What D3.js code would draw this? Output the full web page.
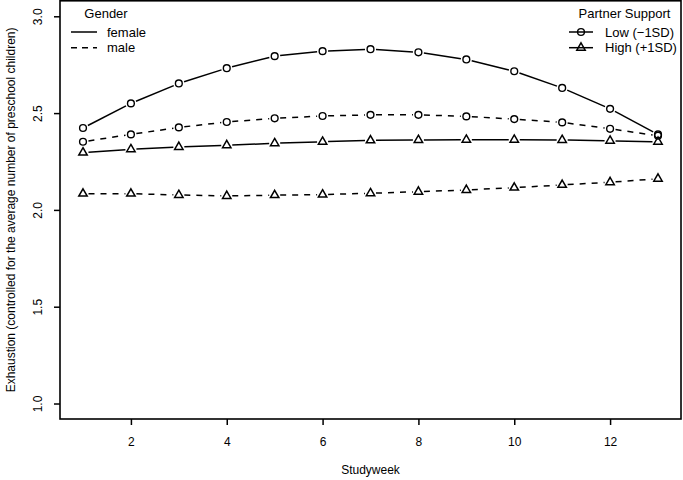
<!DOCTYPE html>
<html>
<head>
<meta charset="utf-8">
<script src="https://cdn.jsdelivr.net/npm/d3@7"></script>
<style>
  html, body { margin: 0; padding: 0; background: #fff; }
  svg { display: block; font-family: "Liberation Sans", Arial, Helvetica, sans-serif; }
</style>
</head>
<body>
<svg id="chart" width="683" height="480"></svg>
<script>
const weeks = [1,2,3,4,5,6,7,8,9,10,11,12,13];
const femaleLow  = [2.423,2.550,2.653,2.732,2.794,2.820,2.830,2.814,2.777,2.716,2.630,2.522,2.390];
const maleLow    = [2.352,2.390,2.426,2.454,2.473,2.485,2.491,2.491,2.483,2.469,2.452,2.419,2.383];
const femaleHigh = [2.296,2.313,2.325,2.334,2.344,2.352,2.359,2.361,2.362,2.362,2.361,2.357,2.352];
const maleHigh   = [2.084,2.084,2.077,2.072,2.076,2.079,2.086,2.094,2.103,2.115,2.129,2.143,2.161];
const xTicks = [2,4,6,8,10,12];
const yTicks = [1.0,1.5,2.0,2.5,3.0];
const series = [
  {name:"female", support:"Low (\u22121SD)", values: femaleLow, dashed:false, shape:"circle"},
  {name:"male", support:"Low (\u22121SD)", values: maleLow, dashed:true, shape:"circle"},
  {name:"female", support:"High (+1SD)", values: femaleHigh, dashed:false, shape:"triangle"},
  {name:"male", support:"High (+1SD)", values: maleHigh, dashed:true, shape:"triangle"}
];

const svg = d3.select("#chart");
const L = 60, R = 681, T = 0.8, B = 419;
const x = d3.scaleLinear().domain([0.52, 13.48]).range([L, R]);
const y = d3.scaleLinear().domain([0.92, 3.08]).range([B, T]);
const DASH = "6,6";
const LW = 1.5;

// Axes
const xAxis = svg.append("g").attr("transform", `translate(0,${B})`)
  .call(d3.axisBottom(x).tickValues(xTicks).tickSize(6).tickPadding(10).tickFormat(d3.format("d")));
const yAxis = svg.append("g").attr("transform", `translate(${L},0)`)
  .call(d3.axisLeft(y).tickValues(yTicks).tickSize(6).tickFormat(d3.format(".1f")));
[xAxis, yAxis].forEach(a => {
  a.select(".domain").remove();
  a.selectAll(".tick line").attr("stroke", "#000").attr("stroke-width", 1.5);
  a.selectAll("text").attr("fill", "#000").style("font-size", "12px").style("font-family", "inherit");
});
xAxis.selectAll("text").attr("dy", null).attr("y", 27);
yAxis.selectAll(".tick text")
  .attr("x", null).attr("dy", null)
  .attr("text-anchor", "middle")
  .attr("transform", "translate(-22,0) rotate(-90)")
  .attr("y", 0).attr("dominant-baseline", "central")
  .attr("dx", null);

// Frame
svg.append("rect").attr("x", L).attr("y", T).attr("width", R - L).attr("height", B - T)
  .attr("fill", "none").attr("stroke", "#000").attr("stroke-width", 1.6);

// Axis titles
svg.append("text").attr("x", (L + R) / 2).attr("y", 474).attr("text-anchor", "middle")
  .style("font-size", "12px").text("Studyweek");
svg.append("text").attr("transform", `translate(15,${(T + B) / 2}) rotate(-90)`)
  .attr("text-anchor", "middle").style("font-size", "12px")
  .text("Exhaustion (controlled for the average number of preschool children)");

// Marker drawing
const R0 = 3.4;
function triPath(cx, cy, s) {
  const r = 1.555 * s, xc = r * Math.sqrt(3) / 2, yc = r / 2;
  return `M${cx},${cy - r}L${cx + xc},${cy + yc}L${cx - xc},${cy + yc}Z`;
}
function drawMarker(g, shape, cx, cy) {
  if (shape === "circle") {
    g.append("circle").attr("cx", cx).attr("cy", cy).attr("r", R0)
      .attr("fill", "none").attr("stroke", "#000").attr("stroke-width", 1.4);
  } else {
    g.append("path").attr("d", triPath(cx, cy, R0 * 0.92))
      .attr("fill", "none").attr("stroke", "#000").attr("stroke-width", 1.5)
      .attr("stroke-linejoin", "miter");
  }
}

// Series (type "b": segments with gaps around points)
const GAP = 5.5;
series.forEach(s => {
  const g = svg.append("g");
  const pts = weeks.map((w, i) => [x(w), y(s.values[i])]);
  for (let i = 0; i < pts.length - 1; i++) {
    const [x1, y1] = pts[i], [x2, y2] = pts[i + 1];
    const dx = x2 - x1, dy = y2 - y1, len = Math.hypot(dx, dy);
    if (len <= 2 * GAP) continue;
    const ux = dx / len, uy = dy / len;
    g.append("line")
      .attr("x1", x1 + ux * GAP).attr("y1", y1 + uy * GAP)
      .attr("x2", x2 - ux * GAP).attr("y2", y2 - uy * GAP)
      .attr("stroke", "#000").attr("stroke-width", LW)
      .attr("stroke-dasharray", s.dashed ? DASH : null);
  }
  pts.forEach(p => drawMarker(g, s.shape, p[0], p[1]));
});

// Legend: Gender
const genders = [{label:"female", dashed:false}, {label:"male", dashed:true}];
const lg = svg.append("g");
lg.append("text").attr("x", 106).attr("y", 13).attr("text-anchor", "middle")
  .attr("dominant-baseline", "central").style("font-size", "13px").text("Gender");
genders.forEach((d, i) => {
  const yy = 32 + i * 15.7;
  lg.append("line").attr("x1", 71).attr("x2", 97).attr("y1", yy).attr("y2", yy)
    .attr("stroke", "#000").attr("stroke-width", LW)
    .attr("stroke-dasharray", d.dashed ? "6,5" : null);
  lg.append("text").attr("x", 107).attr("y", yy).attr("dominant-baseline", "central")
    .style("font-size", "13px").text(d.label);
});

// Legend: Partner Support
const supports = [{label:"Low (\u22121SD)", shape:"circle"}, {label:"High (+1SD)", shape:"triangle"}];
const rg = svg.append("g");
rg.append("text").attr("x", 624.5).attr("y", 13).attr("text-anchor", "middle")
  .attr("dominant-baseline", "central").style("font-size", "13px").text("Partner Support");
supports.forEach((d, i) => {
  const yy = 32 + i * 15.7;
  rg.append("line").attr("x1", 569).attr("x2", 593).attr("y1", yy).attr("y2", yy)
    .attr("stroke", "#000").attr("stroke-width", LW);
  drawMarker(rg, d.shape, 581, yy);
  rg.append("text").attr("x", 605).attr("y", yy).attr("dominant-baseline", "central")
    .style("font-size", "13px").text(d.label);
});
</script>
</body>
</html>
